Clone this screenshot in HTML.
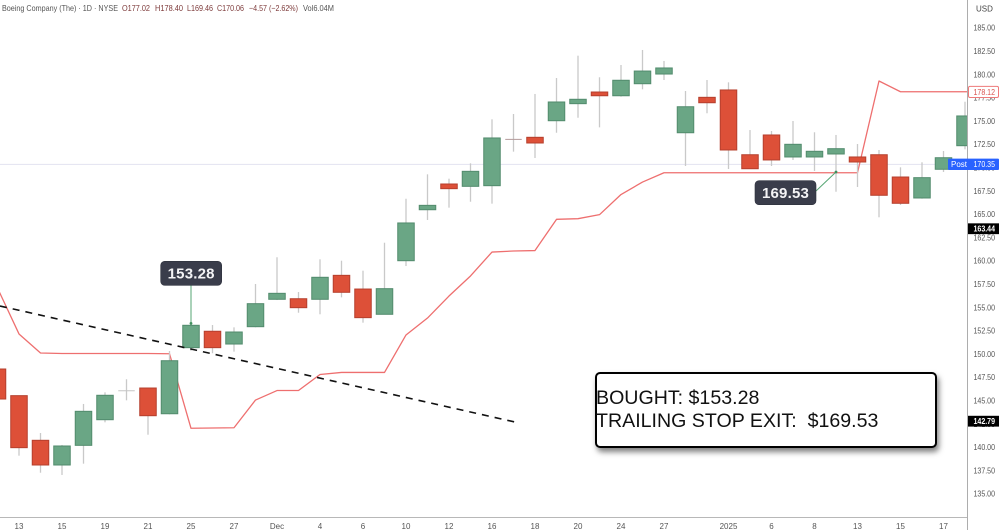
<!DOCTYPE html>
<html lang="en">
<head>
<meta charset="utf-8">
<title>Boeing Company daily chart</title>
<style>
html,body{margin:0;padding:0;background:#fff;width:999px;height:530px;overflow:hidden}
#chart-wrap{position:relative;width:999px;height:530px;font-family:"Liberation Sans",sans-serif}
svg{position:absolute;left:0;top:0}
#summary-box{position:absolute;left:595px;top:372px;width:338px;height:72px;border:2px solid #000;border-radius:5px;background:#fff;box-shadow:2px 4px 6px rgba(0,0,0,.5);font-size:19.6px;line-height:22.7px;color:#111;white-space:pre;padding:0;box-sizing:content-box}
#summary-box div{position:relative;left:-1px;top:13px}
</style>
</head>
<body>
<div id="chart-wrap">
<svg id="chart" width="999" height="530" viewBox="0 0 999 530" xmlns="http://www.w3.org/2000/svg" font-family="'Liberation Sans',sans-serif">
  <g font-size="8.3" dominant-baseline="auto">
    <text x="2" y="11" fill="#555" textLength="116" lengthAdjust="spacingAndGlyphs">Boeing Company (The) · 1D · NYSE</text>
    <text x="122" y="11" fill="#7d3a3a" textLength="28" lengthAdjust="spacingAndGlyphs">O177.02</text>
    <text x="155" y="11" fill="#7d3a3a" textLength="28" lengthAdjust="spacingAndGlyphs">H178.40</text>
    <text x="187" y="11" fill="#7d3a3a" textLength="26" lengthAdjust="spacingAndGlyphs">L169.46</text>
    <text x="217" y="11" fill="#7d3a3a" textLength="27" lengthAdjust="spacingAndGlyphs">C170.06</text>
    <text x="249" y="11" fill="#7d3a3a" textLength="49" lengthAdjust="spacingAndGlyphs">−4.57 (−2.62%)</text>
    <text x="303" y="11" fill="#555" textLength="31" lengthAdjust="spacingAndGlyphs">Vol6.04M</text>
  </g>
  <text x="976" y="11.5" font-size="8" fill="#444">USD</text>
  <g id="layer-lines"></g>
  <g id="layer-candles"></g>
  <g id="layer-overlay"></g>
  <g id="layer-axes"></g>
</svg>
<div id="summary-box"><div><span>BOUGHT: $153.28</span>
<span>TRAILING STOP EXIT:  $169.53</span></div></div>
</div>
<script>
const categories = ["","13","","15","","19","","21","","25","","27","","Dec","","4","","6","","10","","12","","16","","18","","20","","24","","27","","","2025","","6","","8","","13","","15","","17",""];
const opens  = [148.39,145.53,140.74,138.09,140.20,142.95,146.06,146.35,143.59,150.68,152.44,151.07,152.93,155.87,155.93,155.87,158.44,156.97,154.26,160.01,165.48,168.24,167.99,168.06,173.04,173.25,175.03,176.86,178.11,177.71,179.00,180.04,173.74,177.54,178.33,171.38,173.50,171.14,171.14,171.46,171.14,171.38,168.99,166.74,169.82,172.35];
const highs  = [148.39,145.53,141.52,140.24,144.64,145.89,147.29,146.35,150.32,153.33,153.11,152.86,157.51,160.38,156.65,160.16,160.01,158.94,161.94,166.66,169.28,168.81,170.46,175.18,175.75,177.90,179.61,182.01,179.69,181.01,182.62,181.44,178.22,179.40,179.15,174.03,173.93,175.00,173.79,173.50,172.53,171.89,170.03,170.57,171.78,177.07];
const lows   = [145.17,139.09,137.26,137.02,138.23,142.67,145.03,141.34,143.53,150.35,150.08,150.25,152.86,155.79,154.43,154.26,156.08,153.36,154.26,159.44,164.38,165.70,166.34,166.13,171.71,171.03,173.74,175.35,174.32,177.61,178.40,179.40,170.17,175.83,169.85,169.88,170.17,170.82,169.64,167.41,167.92,164.67,165.99,166.66,169.53,171.96];
const closes = [145.17,139.95,138.09,140.13,143.85,145.57,146.06,143.38,149.28,153.08,150.68,152.36,155.40,156.51,154.97,158.23,156.62,153.90,157.01,164.06,165.95,167.74,169.60,173.18,173.02,172.64,177.04,177.33,177.71,179.37,180.36,180.69,176.53,176.96,171.89,169.88,170.82,172.50,171.75,172.03,170.60,167.03,166.17,168.92,171.06,175.54];
const trailingStop = [157.08,152.15,150.11,150.05,150.05,150.05,150.05,150.05,150.03,142.03,142.06,142.09,145.06,146.08,146.08,147.80,148.02,148.02,148.02,152.04,153.86,156.22,158.37,160.94,161.05,161.10,164.45,164.52,164.95,167.11,168.45,169.45,169.45,169.45,169.45,169.45,169.45,169.45,169.45,169.45,169.45,179.29,178.14,178.14,178.14,178.14];
const priceTicks = [185,182.5,180,177.5,175,172.5,170,167.5,165,162.5,160,157.5,155,152.5,150,147.5,145,142.5,140,137.5,135];
const trendBars = [0.116,24.07];
const trendPrices = [155.15,142.70];
const entryBar = 9;
const entryPrice = 153.28;
const exitBar = 39;
const exitPrice = 169.53;
const postPrice = 170.35;
const stopPrice = 178.12;
const markerPrices = [163.44,142.79];

const NS = 'http://www.w3.org/2000/svg';
const plotRight = 967.5;
const axisBottom = 517.5;
function xScale(i){ return -2.5 + 21.5 * i; }
function yScale(p){ return 27.8 + (185 - p) * 9.32; }
function mk(tag, attrs, parent){
  const el = document.createElementNS(NS, tag);
  for (const k in attrs) el.setAttribute(k, attrs[k]);
  parent.appendChild(el);
  return el;
}
const lines = document.getElementById('layer-lines');
const candles = document.getElementById('layer-candles');
const overlay = document.getElementById('layer-overlay');
const axes = document.getElementById('layer-axes');

let el;
/* clip so candles stop at the price axis */
const defs = mk('defs', {}, document.getElementById('chart'));
const clip = mk('clipPath', {id:'plot-clip'}, defs);
mk('rect', {x:0, y:0, width:plotRight, height:axisBottom}, clip);
candles.setAttribute('clip-path', 'url(#plot-clip)');
lines.setAttribute('clip-path', 'url(#plot-clip)');

/* post-market price line */
el = mk('line', {x1:0, x2:plotRight, y1:yScale(postPrice), y2:yScale(postPrice), stroke:'#e2e2f0', 'stroke-width':1}, lines);



/* trailing stop */
el = mk('polyline', {
  points: trailingStop.map((v, i) => xScale(i) + ',' + yScale(v)).join(' ') + ' ' + plotRight + ',' + yScale(trailingStop[trailingStop.length - 1]),
  fill:'none', stroke:'#ee6f6f', 'stroke-width':1.3, 'stroke-linejoin':'round'
}, lines);



/* candles */
const bodyW = 16.5;
opens.forEach((o, i) => {
  const c = closes[i];
  const x = xScale(i);
  const g = mk('g', {}, candles);
  
  
  el = mk('line', {x1:x, x2:x, y1:yScale(highs[i]), y2:yScale(lows[i]), stroke:'#c9c9c9', 'stroke-width':1.3}, g);
  
  
  const top = yScale(Math.max(o, c));
  const bot = yScale(Math.min(o, c));
  if (bot - top < 1.5) {
    el = mk('line', {x1:x - bodyW / 2, x2:x + bodyW / 2, y1:(top + bot) / 2, y2:(top + bot) / 2, stroke: c < o ? '#b39a9a' : '#c6c6c6', 'stroke-width':1}, g);
  } else {
    const up = c >= o;
    el = mk('rect', {x:x - bodyW / 2, y:top, width:bodyW, height:bot - top, fill: up ? '#6aa685' : '#dd5038', stroke: up ? '#528b6d' : '#b53f2d', 'stroke-width':1}, g);
  }
  
  
});

/* dashed trend line */
el = mk('line', {x1:xScale(trendBars[0]), y1:yScale(trendPrices[0]), x2:xScale(trendBars[1]), y2:yScale(trendPrices[1]), stroke:'#111', 'stroke-width':1.6, 'stroke-dasharray':'7 6'}, overlay);



/* annotations */
function callout(name, bar, price, boxX, boxY, x2, y2){
  const px = xScale(bar), py = yScale(price);
  const ln = mk('line', {x1:px, y1:py, x2:x2, y2:y2, stroke:'#55a673', 'stroke-width':1}, overlay);
  
  
  const dot = mk('circle', {cx:px, cy:py, r:1.4, fill:'#3f8f5d'}, overlay);
  
  
  const box = mk('rect', {x:boxX, y:boxY, width:61, height:24, rx:4, fill:'#3a3d4b', stroke:'#2f323e', 'stroke-width':0.6}, overlay);
  
  
  const t = mk('text', {x:boxX + 30.5, y:boxY + 17.2, 'text-anchor':'middle', 'font-size':15, 'font-weight':'bold', fill:'#f4f4f6', 'letter-spacing':0.2}, overlay);
  t.textContent = price.toFixed(2);
  
  
}
callout('entry', entryBar, entryPrice, 160.7, 261.3, xScale(entryBar), 285);
callout('exit', exitBar, exitPrice, 755, 180.7, 816, 191);

/* axes */
el = mk('line', {x1:0, x2:plotRight, y1:axisBottom, y2:axisBottom, stroke:'#b8b8b8', 'stroke-width':1}, axes);


el = mk('line', {x1:plotRight, x2:plotRight, y1:0, y2:530, stroke:'#adadad', 'stroke-width':1}, axes);



priceTicks.forEach(p => {
  const t = mk('text', {x:973.5, y:yScale(p) + 2.9, 'font-size':8, fill:'#555', textLength:21.5, lengthAdjust:'spacingAndGlyphs'}, axes);
  t.textContent = p.toFixed(2);
  
  
});
categories.forEach((c, i) => {
  if (!c) return;
  const t = mk('text', {x:xScale(i), y:529, 'font-size':8, fill:'#555', 'text-anchor':'middle'}, axes);
  t.textContent = c;
  
  
});

/* price tags */
el = mk('rect', {x:968.5, y:yScale(stopPrice) - 5.6, width:30, height:11.2, rx:1.5, fill:'#fff', stroke:'#ee7a7a', 'stroke-width':1}, axes);


el = mk('text', {x:973.5, y:yScale(stopPrice) + 2.9, 'font-size':8, fill:'#d9534f', textLength:21.5, lengthAdjust:'spacingAndGlyphs'}, axes);
el.textContent = stopPrice.toFixed(2);



el = mk('rect', {x:948, y:yScale(postPrice) - 5.7, width:51, height:11.4, rx:1, fill:'#2962ff'}, axes);


el = mk('text', {x:951, y:yScale(postPrice) + 2.9, 'font-size':8, fill:'#fff'}, axes);
el.textContent = 'Post';


el = mk('text', {x:973.5, y:yScale(postPrice) + 2.9, 'font-size':8, fill:'#fff', textLength:21.5, lengthAdjust:'spacingAndGlyphs'}, axes);
el.textContent = postPrice.toFixed(2);



markerPrices.forEach(p => {
  const r = mk('rect', {x:968, y:yScale(p) - 5.4, width:31, height:10.8, fill:'#000'}, axes);
  
  
  const t = mk('text', {x:973.5, y:yScale(p) + 2.9, 'font-size':8, 'font-weight':'bold', fill:'#fff', textLength:21.5, lengthAdjust:'spacingAndGlyphs'}, axes);
  t.textContent = p.toFixed(2);
  
  
});
</script>
</body>
</html>
